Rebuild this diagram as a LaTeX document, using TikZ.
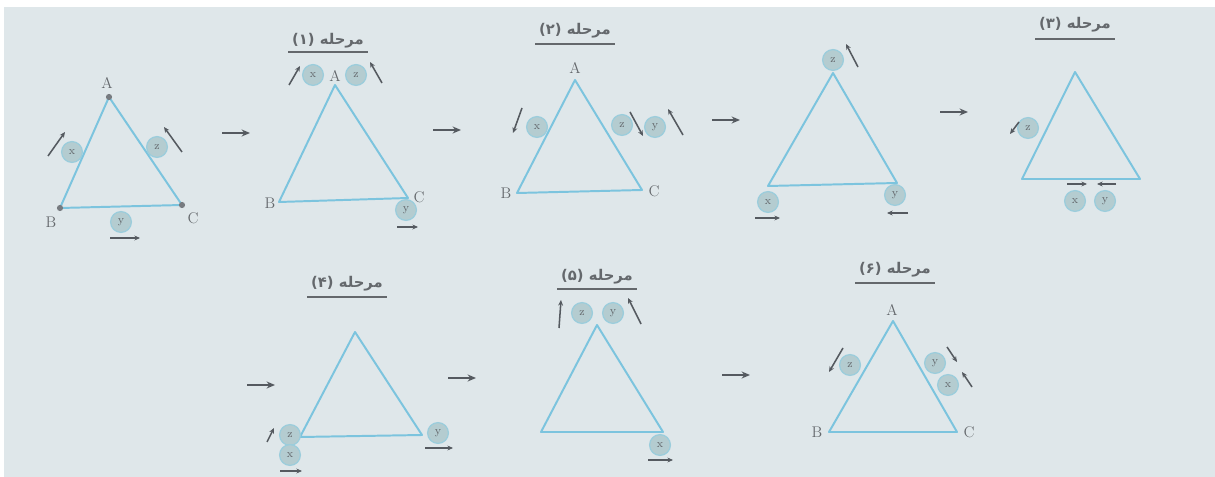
\documentclass[tikz,border=0pt]{standalone}
\usepackage{fontspec}
\usetikzlibrary{arrows.meta}
\newfontfamily\arabicfont[Script=Arabic]{DejaVu Sans}
\TeXXeTstate=1
\definecolor{paper}{RGB}{223,231,234}
\definecolor{triblue}{RGB}{124,196,222}
\definecolor{ballfill}{RGB}{180,204,208}
\definecolor{ballrim}{RGB}{155,205,220}
\definecolor{inkgray}{RGB}{100,104,108}
\definecolor{arrowgray}{RGB}{85,90,96}

\begin{document}
\begin{tikzpicture}[x=0.025cm,y=-0.025cm,
  tri/.style={line width=1.4pt, draw=triblue, line join=round},
  ball/.style={circle, fill=ballfill, draw=ballrim, line width=0.9pt, minimum size=5.2mm, inner sep=0pt, font=\footnotesize, text=inkgray},
  move/.style={-{Stealth[length=4pt,width=3.5pt]}, line width=1.1pt, draw=arrowgray},
  next/.style={-{Stealth[length=6pt,width=5pt]}, line width=1.2pt, draw=arrowgray},
  vlabel/.style={font=\fontsize{11}{12}\selectfont, text=inkgray},
  title/.style={font=\arabicfont\bfseries\fontsize{10.5}{12}\selectfont, text=inkgray}]
\useasboundingbox (0,0) rectangle (1215,477);
\fill[white] (0,0) rectangle (1215,477);
\fill[paper] (4,7) rectangle (1215,477);
% Triangles of every stage
\foreach \n/\ax/\ay/\bx/\by/\cx/\cy in {0/109/97/60/208/182/205, 1/335/85/279/202/408/198,
    2/575/80/517/193/642/190, 3/833/73/768/186/897/183, 4/1075/72/1022/179/1140/179,
    5/355/332/300/437/422/435, 6/597/325/541/432/663/432, 7/893/321/829/432/957/432} {
  \coordinate (A\n) at (\ax,\ay);
  \coordinate (B\n) at (\bx,\by);
  \coordinate (C\n) at (\cx,\cy);
  \draw[tri] (A\n) -- (B\n) -- (C\n) -- cycle;
}
% Vertex dots of the start
\foreach \v in {A0,B0,C0} \fill[arrowgray!80] (\v) circle (2.2pt);
% Vertex labels
\foreach \n/\s/\lx/\ly in {0/A/107/83, 0/B/51/222, 0/C/193/218, 1/A/335/76, 1/B/270/203, 1/C/419/197,
    2/A/575/68, 2/B/506/193, 2/C/654/191, 7/A/892/310, 7/B/817/432, 7/C/969/432}
  \node[vlabel] (l\s\n) at (\lx,\ly) {\s};
% Stage titles
\foreach \d/\tx/\ty/\uy in {۱/328/41/52, ۲/575/31/44, ۳/1075/25/39, ۴/347/284/297, ۵/597/277/289, ۶/895/270/283} {
  \node[title] (t\d) at (\tx,\ty) {\beginR مرحله (\d)\endR};
  \draw[inkgray, line width=0.9pt] (\tx-40,\uy) -- (\tx+40,\uy);
}
% Arrows between stages
\foreach \x/\y in {222/133, 433/130, 712/120, 940/112, 247/385, 448/378, 722/375}
  \draw[next] (\x,\y) -- (\x+28,\y);
% Balls
\foreach \b/\c/\bx/\by in {x0/x/72/152, z0/z/157/147, y0/y/121/222,
    x1/x/313/75, z1/z/356/75, y1/y/406/210,
    x2/x/537/127, z2/z/622/125, y2/y/655/127,
    z3/z/833/60, x3/x/768/202, y3/y/895/195,
    z4/z/1028/128, x4/x/1075/201, y4/y/1105/201,
    z5/z/290/435, x5/x/290/455, y5/y/438/433,
    z6/z/582/313, y6/y/613/313, x6/x/660/445,
    z7/z/850/365, y7/y/935/363, x7/x/948/385}
  \node[ball] (\b) at (\bx,\by) {\c};
% Motion of the balls
\foreach \px/\py/\qx/\qy in {48/156/65/132, 182/152/164/127, 110/238/140/238,
    289/85/300/66, 382/83/370/62, 397/227/418/227,
    522/108/513/133, 630/112/643/136, 683/135/668/109,
    858/67/846/44, 755/218/780/218, 908/213/887/213,
    1019/122/1010/134, 1067/184/1087/184, 1116/184/1097/184,
    267/442/274/428, 280/471/302/471, 425/448/453/448,
    559/328/561/300, 641/324/628/298, 648/460/673/460,
    843/348/829/372, 947/347/957/362, 972/387/962/372}
  \draw[move] (\px,\py) -- (\qx,\qy);
\end{tikzpicture}
\end{document}
